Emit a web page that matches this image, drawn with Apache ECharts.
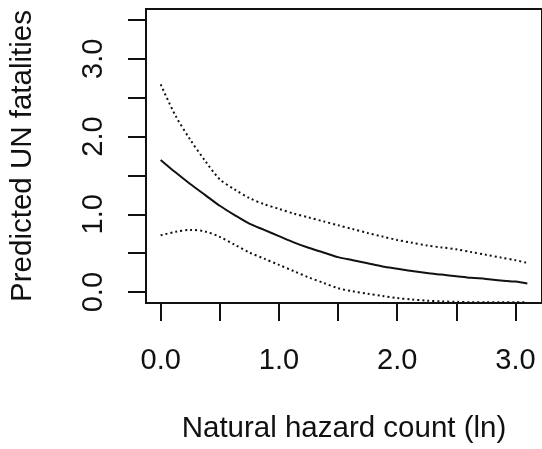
<!DOCTYPE html>
<html>
<head>
<meta charset="utf-8">
<script src="https://cdn.jsdelivr.net/npm/echarts@6/dist/echarts.min.js"></script>
<style>
  html, body { margin: 0; padding: 0; background: #fff; }
  #chart { width: 542px; height: 449px; }
</style>
</head>
<body>
<div id="chart"></div>
<script>
// hazard count (ln) and predicted fatalities with CI bounds
var xs = [0, 0.125, 0.25, 0.375, 0.5, 0.625, 0.75, 0.875, 1.0, 1.125, 1.25, 1.375, 1.5,
          1.625, 1.75, 1.875, 2.0, 2.125, 2.25, 2.375, 2.5, 2.625, 2.75, 2.875, 3.0, 3.1];
var fit = [1.70, 1.54, 1.39, 1.25, 1.11, 0.99, 0.88, 0.80, 0.72, 0.64, 0.57, 0.51, 0.45,
           0.41, 0.37, 0.33, 0.30, 0.27, 0.245, 0.225, 0.205, 0.185, 0.17, 0.15, 0.135, 0.11];
var upper = [2.67, 2.27, 1.96, 1.69, 1.45, 1.32, 1.21, 1.13, 1.07, 1.01, 0.96, 0.91, 0.86,
             0.81, 0.76, 0.715, 0.67, 0.635, 0.60, 0.575, 0.55, 0.515, 0.48, 0.445, 0.41, 0.375];
var lower = [0.73, 0.775, 0.80, 0.78, 0.71, 0.61, 0.51, 0.43, 0.35, 0.27, 0.19, 0.12, 0.05,
             0.01, -0.02, -0.05, -0.077, -0.095, -0.11, -0.12, -0.125, -0.13, -0.13, -0.13, -0.13, -0.13];

var xTicks = [0, 0.5, 1, 1.5, 2, 2.5, 3];
var xLabels = [0, 1, 2, 3];
var yTicks = [0, 0.5, 1, 1.5, 2, 2.5, 3, 3.5];
var yLabels = [0, 1, 2, 3];

function pairs(ys) {
    return xs.map(function (x, i) { return [x, ys[i]]; });
}

var chart = echarts.init(document.getElementById('chart'));
var font = 'Liberation Sans, Arial, sans-serif';

chart.setOption({
    animation: false,
    grid: {
        left: 144,
        top: 9,
        width: 402,
        height: 295,
        show: true,
        borderColor: '#111',
        borderWidth: 2,
        backgroundColor: 'transparent'
    },
    xAxis: {
        type: 'value',
        min: -0.124,
        max: 3.224,
        name: 'Natural hazard count (ln)',
        nameLocation: 'middle',
        nameGap: 111,
        nameTextStyle: { color: '#111', fontSize: 29.5, fontFamily: font },
        axisLine: { show: true, onZero: false, lineStyle: { color: '#111', width: 2 } },
        axisTick: {
            show: true,
            inside: false,
            length: 18,
            customValues: xTicks,
            lineStyle: { color: '#111', width: 2 }
        },
        axisLabel: {
            customValues: xLabels,
            margin: 43,
            color: '#111',
            fontSize: 29,
            fontFamily: font,
            formatter: function (v) { return v.toFixed(1); }
        },
        splitLine: { show: false }
    },
    yAxis: {
        type: 'value',
        min: -0.14,
        max: 3.64,
        name: 'Predicted UN fatalities',
        nameLocation: 'middle',
        nameGap: 108,
        nameTextStyle: { color: '#111', fontSize: 29.5, fontFamily: font },
        axisLine: { show: true, onZero: false, lineStyle: { color: '#111', width: 2 } },
        axisTick: {
            show: true,
            inside: false,
            length: 18,
            customValues: yTicks,
            lineStyle: { color: '#111', width: 2 }
        },
        axisLabel: {
            customValues: yLabels,
            rotate: 90,
            margin: 38,
            color: '#111',
            fontSize: 29,
            fontFamily: font,
            formatter: function (v) { return v.toFixed(1); }
        },
        splitLine: { show: false }
    },
    series: [
        {
            type: 'line',
            name: 'fit',
            data: pairs(fit),
            smooth: 0.3,
            showSymbol: false,
            lineStyle: { color: '#111', width: 2 }
        },
        {
            type: 'line',
            name: 'upper',
            data: pairs(upper),
            smooth: 0.3,
            showSymbol: false,
            lineStyle: { color: '#111', width: 2, type: [2, 3] }
        },
        {
            type: 'line',
            name: 'lower',
            data: pairs(lower),
            smooth: 0.3,
            showSymbol: false,
            lineStyle: { color: '#111', width: 2, type: [2, 3] }
        }
    ]
});
</script>
</body>
</html>
